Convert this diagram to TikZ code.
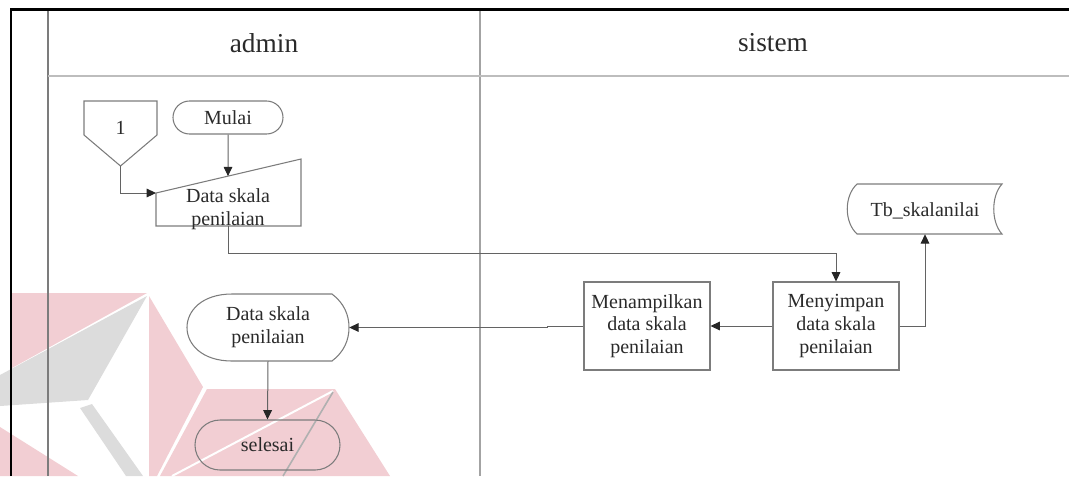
\documentclass[tikz,border=0pt]{standalone}
\usepackage{fontspec}
\setmainfont{Liberation Serif}
\usetikzlibrary{arrows.meta,shapes.misc,calc}
\definecolor{wmpink}{HTML}{F2CED3}
\definecolor{wmgrey}{HTML}{DCDCDC}
\definecolor{edge}{HTML}{7C7C7C}
\definecolor{ink}{HTML}{2A2A2A}
\begin{document}
\begin{tikzpicture}[x=0.75pt,y=-0.75pt,
  every node/.style={text=ink,font=\fontsize{15}{17}\selectfont,align=center,inner sep=0pt},
  outline/.style={draw=edge,line width=0.8pt},
  procbox/.style={outline,minimum width=94.5pt,minimum height=66pt},
  terminal/.style={outline,rounded rectangle},
  flow/.style={draw=edge!80!black,line width=0.75pt,-{Triangle[length=7pt,width=6.5pt,color=black!85]}},
  lane/.style={draw=edge,line width=0.8pt},
  title/.style={font=\fontsize{20.5}{24}\selectfont}]
\useasboundingbox (0,0) rectangle (1069,476);

% faint logo in the background
\fill[wmpink] (12,293) -- (147,293) -- (12,368) -- cycle;
\fill[wmgrey] (0,375) -- (147,296) -- (88,400) -- (0,406) -- cycle;
\fill[wmgrey] (80,408) -- (92,404) -- (143,476) -- (126,476) -- cycle;
\fill[wmpink] (0,427) -- (78,476) -- (0,476) -- cycle;
\fill[wmpink] (149,296) -- (203,387) -- (157,476) -- (149,476) -- cycle;
\fill[wmpink] (207,389) -- (335,389) -- (390,476) -- (160,476) -- cycle;
\draw[white,line width=1.5pt] (333,391) -- (172,476);
\draw[wmgrey!80!black,line width=1.2pt] (333,392) -- (283,476);

% swimlane frame
\draw[lane] (48,9.5) -- (48,476);
\draw[lane,draw=edge!70] (480,9.5) -- (480,476);
\draw[lane,draw=edge!50] (48,76) -- (1069,76);
\draw[black,line width=2pt] (11,476) -- (11,9.5) -- (1069,9.5);
\node[title] (laneA) at (264,43) {admin};
\node[title] (laneB) at (773,43) {sistem};

% off-page connector
\node[minimum width=54.75pt,minimum height=48.75pt] (conn) at (120.5,133.5) {};
\draw[outline] (84,101) -- (157,101) -- (157,135) -- (120.5,166) -- (84,135) -- cycle;
\node (connlbl) at (120.5,128) {1};

% start terminal
\node[terminal,minimum width=82.5pt,minimum height=24.75pt] (mulai) at (228,117.5) {Mulai};

% manual input
\node[minimum width=108.75pt,minimum height=50.25pt] (inp) at (228.5,192.5) {};
\draw[outline] (156,193) -- (301,159) -- (301,226) -- (156,226) -- cycle;
\node (inplbl) at (228,209) {Data skala\\penilaian};
\coordinate (inpcorner) at (156,193);
\coordinate (inpslope) at ($(156,193)!0.4966!(301,159)$);

% display
\node[minimum width=121.5pt,minimum height=50.25pt] (disp) at (268,327.5) {};
\draw[outline] (232,294) -- (332,294) .. controls (344,303) and (349,315) .. (349,327.5)
  .. controls (349,340) and (344,352) .. (332,361) -- (232,361)
  .. controls (172,361) and (172,294) .. (232,294) -- cycle;
\node (displbl) at (268,327.5) {Data skala\\penilaian};

% end terminal
\node[terminal,minimum width=108.75pt,minimum height=37.5pt] (selesai) at (267.5,445) {selesai};

% processes
\node[procbox] (tampil) at (647,326) {Menampilkan\\data skala\\penilaian};
\node[procbox] (simpan) at (836,326) {Menyimpan\\data skala\\penilaian};

% stored data
\node[minimum width=116.25pt,minimum height=37.5pt] (tb) at (925,209) {};
\draw[outline] (857,184) -- (1002,184) .. controls (991,196) and (991,222) .. (1002,234)
  -- (857,234) .. controls (844,222) and (844,196) .. (857,184) -- cycle;
\node (tblbl) at (925,211) {Tb\_skalanilai};

% connectors
\draw[flow] (mulai.south) -- (inpslope);
\draw[flow] (conn.south) |- (inpcorner);
\draw[flow] (inp.south) -- (inp.south |- 0,253) -| (simpan.north);
\draw[flow] (simpan.east) -| (tb.south);
\draw[flow] (simpan.west) -- (tampil.east);
\draw[flow] (tampil.west) -- ++(-36,0) |- (disp.east);
\draw[flow] (disp.south) -- (selesai.north);
\end{tikzpicture}
\end{document}
